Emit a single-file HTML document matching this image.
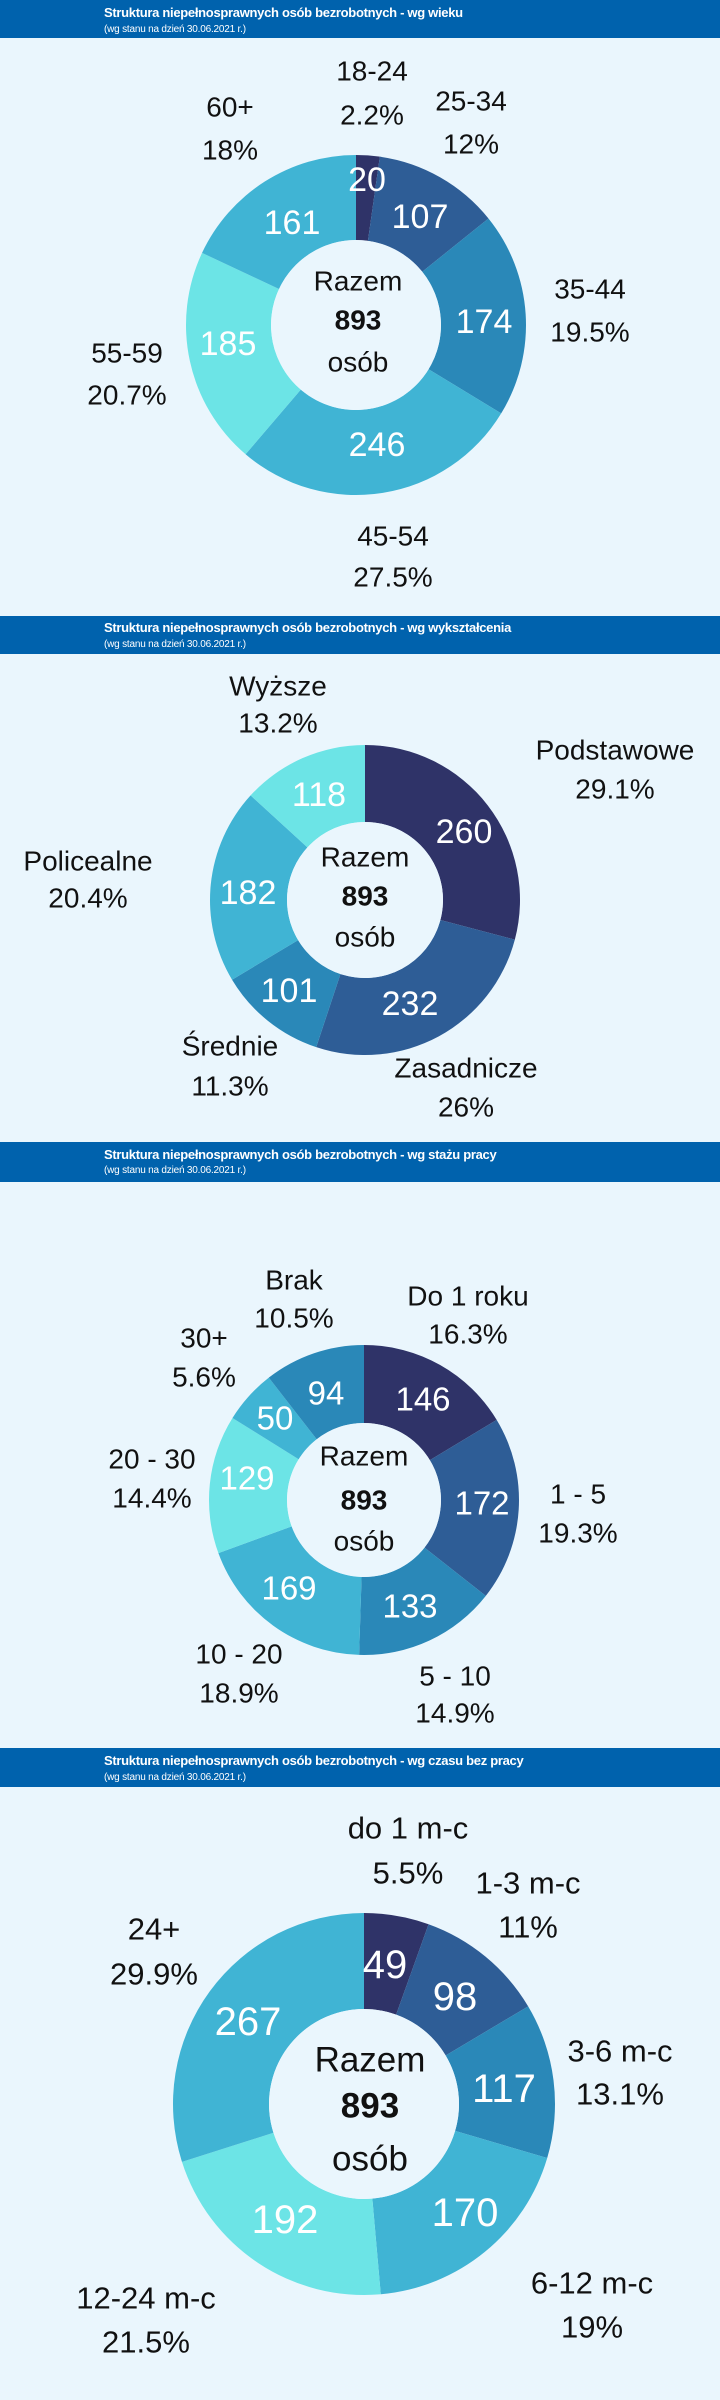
<!DOCTYPE html>
<html><head><meta charset="utf-8">
<style>
html,body{margin:0;padding:0;background:#eaf6fd;}
svg{display:block;}
.h{font-family:"Liberation Sans",sans-serif;fill:#fff;}
.t{font-family:"Liberation Sans",sans-serif;fill:#111;text-anchor:middle;dominant-baseline:central;}
.n{font-family:"Liberation Sans",sans-serif;fill:#fff;text-anchor:middle;dominant-baseline:central;}
</style></head>
<body>
<svg id="s" width="720" height="2400" viewBox="0 0 720 2400" xmlns="http://www.w3.org/2000/svg">
<rect width="720" height="2400" fill="#eaf6fd"/>
<g id="donuts"></g>
<!-- headers -->
<rect x="0" y="0" width="720" height="38" fill="#0062ad"/>
<text class="h" x="104" y="17" font-size="13" font-weight="bold" letter-spacing="-0.3">Struktura niepełnosprawnych osób bezrobotnych - wg wieku</text>
<text class="h" x="104" y="32" font-size="10" letter-spacing="-0.2">(wg stanu na dzień 30.06.2021 r.)</text>

<rect x="0" y="616" width="720" height="38" fill="#0062ad"/>
<text class="h" x="104" y="632" font-size="13" font-weight="bold" letter-spacing="-0.3">Struktura niepełnosprawnych osób bezrobotnych - wg wykształcenia</text>
<text class="h" x="104" y="647" font-size="10" letter-spacing="-0.2">(wg stanu na dzień 30.06.2021 r.)</text>

<rect x="0" y="1142" width="720" height="40" fill="#0062ad"/>
<text class="h" x="104" y="1159" font-size="13" font-weight="bold" letter-spacing="-0.3">Struktura niepełnosprawnych osób bezrobotnych - wg stażu pracy</text>
<text class="h" x="104" y="1173" font-size="10" letter-spacing="-0.2">(wg stanu na dzień 30.06.2021 r.)</text>

<rect x="0" y="1748" width="720" height="39" fill="#0062ad"/>
<text class="h" x="104" y="1765" font-size="13" font-weight="bold" letter-spacing="-0.3">Struktura niepełnosprawnych osób bezrobotnych - wg czasu bez pracy</text>
<text class="h" x="104" y="1780" font-size="10" letter-spacing="-0.2">(wg stanu na dzień 30.06.2021 r.)</text>

<!-- Section 1 labels -->
<g font-size="28">
<text class="t" x="372" y="71">18-24</text><text class="t" x="372" y="115">2.2%</text>
<text class="t" x="471" y="101">25-34</text><text class="t" x="471" y="144">12%</text>
<text class="t" x="230" y="107">60+</text><text class="t" x="230" y="150">18%</text>
<text class="t" x="590" y="289">35-44</text><text class="t" x="590" y="332">19.5%</text>
<text class="t" x="127" y="353">55-59</text><text class="t" x="127" y="395">20.7%</text>
<text class="t" x="393" y="536">45-54</text><text class="t" x="393" y="577">27.5%</text>
<text class="t" x="358" y="281">Razem</text>
<text class="t" x="358" y="320" font-weight="bold">893</text>
<text class="t" x="358" y="362">osób</text>
</g>
<g font-size="34">
<text class="n" x="367" y="180">20</text>
<text class="n" x="420" y="217">107</text>
<text class="n" x="292" y="223">161</text>
<text class="n" x="484" y="322">174</text>
<text class="n" x="228" y="344">185</text>
<text class="n" x="377" y="445">246</text>
</g>

<!-- Section 2 labels -->
<g font-size="28">
<text class="t" x="278" y="686">Wyższe</text><text class="t" x="278" y="723">13.2%</text>
<text class="t" x="615" y="750">Podstawowe</text><text class="t" x="615" y="789">29.1%</text>
<text class="t" x="88" y="861">Policealne</text><text class="t" x="88" y="898">20.4%</text>
<text class="t" x="230" y="1046">Średnie</text><text class="t" x="230" y="1086">11.3%</text>
<text class="t" x="466" y="1068">Zasadnicze</text><text class="t" x="466" y="1107">26%</text>
<text class="t" x="365" y="857">Razem</text>
<text class="t" x="365" y="896" font-weight="bold">893</text>
<text class="t" x="365" y="937">osób</text>
</g>
<g font-size="34">
<text class="n" x="464" y="832">260</text>
<text class="n" x="410" y="1004">232</text>
<text class="n" x="289" y="991">101</text>
<text class="n" x="248" y="893">182</text>
<text class="n" x="319" y="795">118</text>
</g>

<!-- Section 3 labels -->
<g font-size="28">
<text class="t" x="294" y="1280">Brak</text><text class="t" x="294" y="1318">10.5%</text>
<text class="t" x="468" y="1296">Do 1 roku</text><text class="t" x="468" y="1334">16.3%</text>
<text class="t" x="204" y="1338">30+</text><text class="t" x="204" y="1377">5.6%</text>
<text class="t" x="152" y="1459">20 - 30</text><text class="t" x="152" y="1498">14.4%</text>
<text class="t" x="578" y="1494">1 - 5</text><text class="t" x="578" y="1533">19.3%</text>
<text class="t" x="239" y="1654">10 - 20</text><text class="t" x="239" y="1693">18.9%</text>
<text class="t" x="455" y="1676">5 - 10</text><text class="t" x="455" y="1713">14.9%</text>
<text class="t" x="364" y="1456">Razem</text>
<text class="t" x="364" y="1500" font-weight="bold">893</text>
<text class="t" x="364" y="1541">osób</text>
</g>
<g font-size="33">
<text class="n" x="423" y="1399">146</text>
<text class="n" x="482" y="1503">172</text>
<text class="n" x="410" y="1606">133</text>
<text class="n" x="289" y="1588">169</text>
<text class="n" x="247" y="1478">129</text>
<text class="n" x="275" y="1418">50</text>
<text class="n" x="326" y="1393">94</text>
</g>

<!-- Section 4 labels -->
<g font-size="31">
<text class="t" x="408" y="1828">do 1 m-c</text><text class="t" x="408" y="1873">5.5%</text>
<text class="t" x="528" y="1883">1-3 m-c</text><text class="t" x="528" y="1927">11%</text>
<text class="t" x="154" y="1929">24+</text><text class="t" x="154" y="1974">29.9%</text>
<text class="t" x="620" y="2051">3-6 m-c</text><text class="t" x="620" y="2094">13.1%</text>
<text class="t" x="146" y="2298">12-24 m-c</text><text class="t" x="146" y="2342">21.5%</text>
<text class="t" x="592" y="2283">6-12 m-c</text><text class="t" x="592" y="2327">19%</text>
</g>
<g font-size="35">
<text class="t" x="370" y="2060">Razem</text>
<text class="t" x="370" y="2106" font-weight="bold">893</text>
<text class="t" x="370" y="2159">osób</text>
</g>
<g font-size="40">
<text class="n" x="385" y="1965">49</text>
<text class="n" x="455" y="1997">98</text>
<text class="n" x="504" y="2089">117</text>
<text class="n" x="465" y="2213">170</text>
<text class="n" x="285" y="2220">192</text>
<text class="n" x="248" y="2022">267</text>
</g>
</svg>
<script>
(function(){
var C1="#2f3368",C2="#2e5d96",C3="#2a88b8",C4="#40b4d4",C5="#6ce4e6";
var charts=[
 {cx:356,cy:325,r:170,ri:85,v:[20,107,174,246,185,161],c:[C1,C2,C3,C4,C5,C4]},
 {cx:365,cy:900,r:155,ri:78,v:[260,232,101,182,118],c:[C1,C2,C3,C4,C5]},
 {cx:364,cy:1500,r:155,ri:77,v:[146,172,133,169,129,50,94],c:[C1,C2,C3,C4,C5,C4,C3]},
 {cx:364,cy:2104,r:191,ri:95,v:[49,98,117,170,192,267],c:[C1,C2,C3,C4,C5,C4]}
];
var g=document.getElementById("donuts"),ns="http://www.w3.org/2000/svg";
charts.forEach(function(ch){
 var tot=ch.v.reduce(function(a,b){return a+b},0),a=0;
 ch.v.forEach(function(v,i){
  var a0=a/tot*2*Math.PI,a1=(a+v)/tot*2*Math.PI;a+=v;
  var p=function(r,t){return [ch.cx+r*Math.sin(t),ch.cy-r*Math.cos(t)];};
  var o0=p(ch.r,a0),o1=p(ch.r,a1),i1=p(ch.ri,a1),i0=p(ch.ri,a0),lg=(a1-a0)>Math.PI?1:0;
  var d="M"+o0+"A"+ch.r+","+ch.r+" 0 "+lg+" 1 "+o1+"L"+i1+"A"+ch.ri+","+ch.ri+" 0 "+lg+" 0 "+i0+"Z";
  var el=document.createElementNS(ns,"path");el.setAttribute("d",d);el.setAttribute("fill",ch.c[i]);
  g.appendChild(el);
 });
 var c=document.createElementNS(ns,"circle");c.setAttribute("cx",ch.cx);c.setAttribute("cy",ch.cy);c.setAttribute("r",ch.ri);c.setAttribute("fill","#eaf6fd");g.appendChild(c);
});
})();
</script>
</body></html>
